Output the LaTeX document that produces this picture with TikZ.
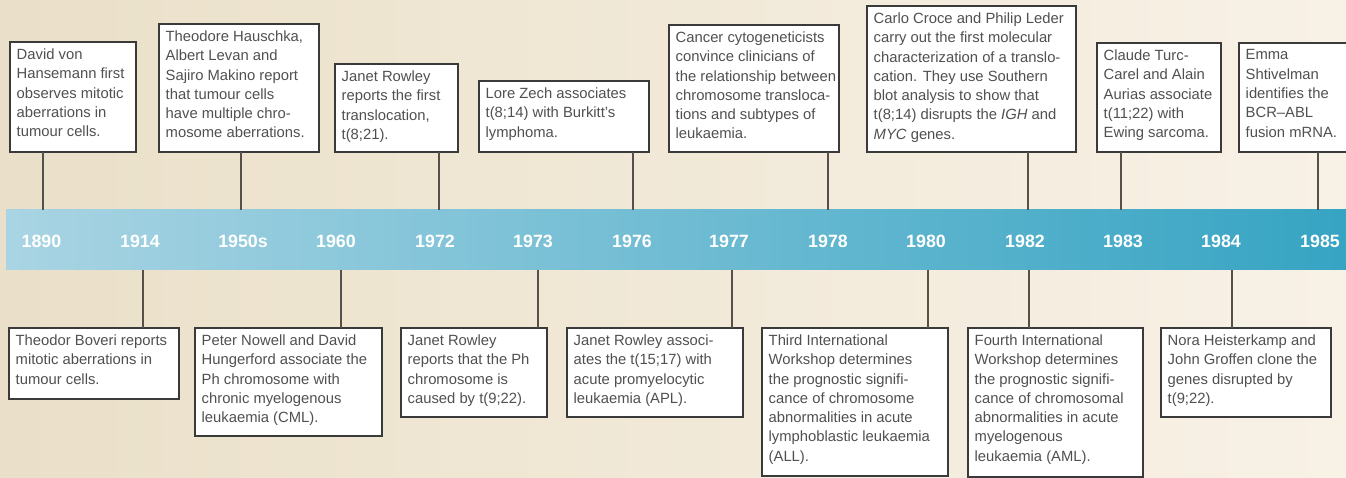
\documentclass[tikz,border=0pt]{standalone}
\usepackage{fontspec}
\setmainfont{Liberation Sans}
\definecolor{bgL}{HTML}{EAE0C9}
\definecolor{bgR}{HTML}{F8F1E6}
\definecolor{bandL}{HTML}{A9D4E3}
\definecolor{bandM}{HTML}{78BED5}
\definecolor{bandR}{HTML}{36A4C3}
\definecolor{boxline}{HTML}{3A3A3A}
\definecolor{connline}{HTML}{555049}
\definecolor{txtcol}{HTML}{505050}
\newcommand\mkbox[6]{%
  \node[evbox, minimum width={(#4-#2)*1pt}, minimum height={(#5-#3)*1pt}] (#1) at (#2,#3) {};
  \node[evtext] (#1txt) at ([shift={(6.5,6.5)}]#1.north west) {#6};}
\begin{document}
\begin{tikzpicture}[x=1pt,y=-1pt,
  evbox/.style={draw=boxline, line width=1.1pt, fill=white, inner sep=0pt, outer sep=0pt, anchor=north west},
  evtext/.style={anchor=north west, inner sep=0pt, align=left, text=txtcol,
    font=\fontsize{14.8}{19.3}\selectfont, execute at begin node=\strut},
  year/.style={text=white, font=\fontsize{17.8}{20}\selectfont\bfseries, inner sep=0pt},
  conn/.style={draw=connline, line width=1.2pt}]
\clip (0,0) rectangle (1346,478);
\shade[left color=bgL, right color=bgR] (0,0) rectangle (1346,478);
% band
\shade[left color=bandL, middle color=bandM, right color=bandR] (6,210) rectangle (1346,270);
% years
\node[year] (y1890) at (41.5,241) {1890};
\node[year] (y1914) at (140,241) {1914};
\node[year] (y1950) at (243,241) {1950s};
\node[year] (y1960) at (336,241) {1960};
\node[year] (y1972) at (435,241) {1972};
\node[year] (y1973) at (533,241) {1973};
\node[year] (y1976) at (632,241) {1976};
\node[year] (y1977) at (729,241) {1977};
\node[year] (y1978) at (828,241) {1978};
\node[year] (y1980) at (926,241) {1980};
\node[year] (y1982) at (1025,241) {1982};
\node[year] (y1983) at (1123,241) {1983};
\node[year] (y1984) at (1221,241) {1984};
\node[year] (y1985) at (1320,241) {1985};
% connector end points on the band
\coordinate (c1890) at (43,210);
\coordinate (c1950) at (241,210);
\coordinate (c1972) at (439,210);
\coordinate (c1976) at (633,210);
\coordinate (c1978) at (828,210);
\coordinate (c1982t) at (1028,210);
\coordinate (c1983) at (1121,210);
\coordinate (c1985) at (1318,210);
\coordinate (c1914) at (143,270);
\coordinate (c1960) at (341,270);
\coordinate (c1973) at (538,270);
\coordinate (c1977) at (732,270);
\coordinate (c1980) at (928,270);
\coordinate (c1982b) at (1029,270);
\coordinate (c1984) at (1232,270);
% top boxes
\mkbox{t1}{10}{42}{136}{152}{David von\\Hansemann first\\observes mitotic\\aberrations in\\tumour cells.}
\mkbox{t2}{159}{24}{319}{152}{Theodore Hauschka,\\Albert Levan and\\Sajiro Makino report\\that tumour cells\\have multiple chro-\\mosome aberrations.}
\mkbox{t3}{335}{64}{458}{152}{Janet Rowley\\reports the first\\translocation,\\t(8;21).}
\mkbox{t4}{479}{81}{649}{152}{Lore Zech associates\\t(8;14) with Burkitt’s\\lymphoma.}
\mkbox{t5}{669}{25}{839}{152}{Cancer cytogeneticists\\convince clinicians of\\the relationship between\\chromosome transloca-\\tions and subtypes of\\leukaemia.}
\mkbox{t6}{867}{6}{1076}{152}{Carlo Croce and Philip Leder\\carry out the first molecular\\characterization of a translo-\\cation. They use Southern\\blot analysis to show that\\t(8;14) disrupts the \textit{IGH} and\\\textit{MYC} genes.}
\mkbox{t7}{1097}{43}{1221}{152}{Claude Turc-\\Carel and Alain\\Aurias associate\\t(11;22) with\\Ewing sarcoma.}
\mkbox{t8}{1239}{43}{1362}{152}{Emma\\Shtivelman\\identifies the\\BCR–ABL\\fusion mRNA.}
% bottom boxes
\mkbox{b1}{9}{328}{179}{399}{Theodor Boveri reports\\mitotic aberrations in\\tumour cells.}
\mkbox{b2}{195}{328}{382}{436}{Peter Nowell and David\\Hungerford associate the\\Ph chromosome with\\chronic myelogenous\\leukaemia (CML).}
\mkbox{b3}{401}{328}{547}{417}{Janet Rowley\\reports that the Ph\\chromosome is\\caused by t(9;22).}
\mkbox{b4}{567}{328}{743}{417}{Janet Rowley associ-\\ates the t(15;17) with\\acute promyelocytic\\leukaemia (APL).}
\mkbox{b5}{762}{328}{948}{476}{Third International\\Workshop determines\\the prognostic signifi-\\cance of chromosome\\abnormalities in acute\\lymphoblastic leukaemia\\(ALL).}
\mkbox{b6}{968}{328}{1143}{477}{Fourth International\\Workshop determines\\the prognostic signifi-\\cance of chromosomal\\abnormalities in acute\\myelogenous\\leukaemia (AML).}
\mkbox{b7}{1161}{328}{1331}{417}{Nora Heisterkamp and\\John Groffen clone the\\genes disrupted by\\t(9;22).}
% connectors
\draw[conn] (t1.south -| c1890) -- (c1890);
\draw[conn] (t2.south -| c1950) -- (c1950);
\draw[conn] (t3.south -| c1972) -- (c1972);
\draw[conn] (t4.south -| c1976) -- (c1976);
\draw[conn] (t5.south -| c1978) -- (c1978);
\draw[conn] (t6.south -| c1982t) -- (c1982t);
\draw[conn] (t7.south -| c1983) -- (c1983);
\draw[conn] (t8.south -| c1985) -- (c1985);
\draw[conn] (c1914) -- (b1.north -| c1914);
\draw[conn] (c1960) -- (b2.north -| c1960);
\draw[conn] (c1973) -- (b3.north -| c1973);
\draw[conn] (c1977) -- (b4.north -| c1977);
\draw[conn] (c1980) -- (b5.north -| c1980);
\draw[conn] (c1982b) -- (b6.north -| c1982b);
\draw[conn] (c1984) -- (b7.north -| c1984);
\end{tikzpicture}
\end{document}
